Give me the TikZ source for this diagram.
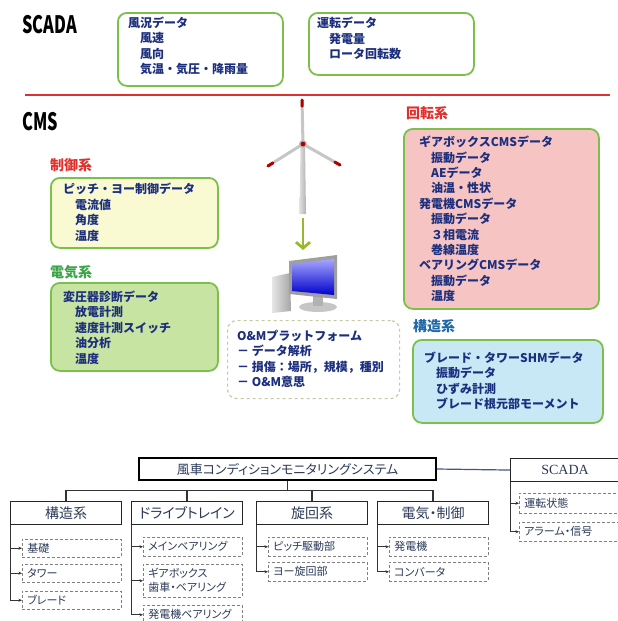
\documentclass[tikz,border=0pt]{standalone}
\usepackage{fontspec}
\setmainfont{Liberation Serif}
\newfontfamily\cjk{Noto Sans CJK JP}
\newfontfamily\cjkp{Noto Sans CJK JP}[RawFeature=+palt]
\usetikzlibrary{arrows.meta, positioning, calc}
\definecolor{navy}{HTML}{1C2F7E}
\definecolor{slate}{HTML}{2C3A58}
\definecolor{boxgreen}{HTML}{7CC04C}
\definecolor{pyellow}{HTML}{FAFAD2}
\definecolor{pgreen}{HTML}{C8E4A2}
\definecolor{ppink}{HTML}{F7C4C4}
\definecolor{pblue}{HTML}{C8E8F6}
\definecolor{hred}{HTML}{E0302C}
\definecolor{hgreen}{HTML}{3AA346}
\definecolor{hblue}{HTML}{2068A8}
\definecolor{arrowgreen}{HTML}{9AB82C}
\definecolor{dashbeige}{HTML}{C9C8A4}
\definecolor{linkblue}{HTML}{3C5A88}
\newcommand{\indt}{\hspace*{1em}}
\tikzset{
  >={Stealth[length=3.5pt,width=3pt]},
  panel/.style={draw=boxgreen, line width=1.8pt, rounded corners=9pt,
    anchor=north west, inner sep=0pt},
  list/.style={anchor=north west, inner sep=0pt, align=left, text=navy,
    font=\cjk\bfseries\fontsize{12}{15.5}\selectfont},
  heading/.style={anchor=west, inner sep=0pt,
    font=\cjk\bfseries\fontsize{14}{16}\selectfont},
  title/.style={anchor=west, inner sep=0pt,
    font=\cjk\bfseries\fontsize{24}{26}\selectfont},
  mainbox/.style={draw, line width=1.6pt, minimum width=297pt,
    minimum height=22pt, inner sep=0pt, text=slate,
    font=\cjkp\fontsize{13}{15}\selectfont},
  catbox/.style={draw=black!85, line width=1.1pt, anchor=north west,
    minimum width=111pt, minimum height=23pt, inner sep=0pt, text=slate,
    font=\cjkp\fontsize{14}{16}\selectfont},
  subbox/.style={draw=gray, densely dashed, line width=0.5pt,
    anchor=north west, text width=89pt, inner xsep=5pt, inner ysep=1pt,
    align=left, minimum height=19pt, text=slate,
    font=\cjkp\fontsize{11}{14}\selectfont},
  arr/.style={->, line width=0.9pt, draw=black!80},
  tree/.style={line width=1.2pt, draw=black!80},
}

\begin{document}
\begin{tikzpicture}[x=1pt, y=-1pt]
    \useasboundingbox[fill=white] (0,0) rectangle (618,621);
    % SCADA part
    \node[title] (scadatitle) at (22,25) {\scalebox{0.68}[1]{SCADA}};
    \node[panel, fill=white, minimum width=165pt, minimum height=73pt] (windbox) at (117,12) {};
    \node[list] (windtxt) at (128,16.5) {風況データ\\\indt 風速\\\indt 風向\\\indt 気温・気圧・降雨量};
    \node[panel, fill=white, minimum width=165pt, minimum height=62pt] (runbox) at (308,12) {};
    \node[list] (runtxt) at (317,17) {運転データ\\\indt 発電量\\\indt ロータ回転数};
    % separator
    \draw[hred, line width=2.6pt] (25,95) -- (610,95);

    % CMS part
    \node[title] (cmstitle) at (22,122) {\scalebox{0.68}[1]{CMS}};
    % 1. control
    \node[heading, text=hred] (ctrlhead) at (50,165) {制御系};
    \node[panel, fill=pyellow, minimum width=167pt, minimum height=70pt] (ctrlbox) at (50,177) {};
    \node[list] (ctrltxt) at (63,183) {ピッチ・ヨー制御データ\\\indt 電流値\\\indt 角度\\\indt 温度};
    % 2. electric
    \node[heading, text=hgreen] (elechead) at (50,272) {電気系};
    \node[panel, fill=pgreen, minimum width=167pt, minimum height=88pt] (elecbox) at (50,282) {};
    \node[list] (electxt) at (63,290.5) {変圧器診断データ\\\indt 放電計測\\\indt 速度計測スイッチ\\\indt 油分析\\\indt 温度};
    % 3. rotating
    \node[heading, text=hred] (rothead) at (406,113) {回転系};
    \node[panel, fill=ppink, minimum width=195pt, minimum height=180pt] (rotbox) at (403,128) {};
    \node[list, font=\cjk\bfseries\fontsize{12}{15.4}\selectfont] (rottxt) at (419,136) {ギアボックスCMSデータ\\\indt 振動データ\\\indt AEデータ\\\indt 油温・性状\\発電機CMSデータ\\\indt 振動データ\\\indt ３相電流\\\indt 巻線温度\\ベアリングCMSデータ\\\indt 振動データ\\\indt 温度};
    % 4. structure
    \node[heading, text=hblue] (strhead) at (413,326) {構造系};
    \node[panel, fill=pblue, minimum width=190pt, minimum height=83pt] (strbox) at (412,339) {};
    \node[list] (strtxt) at (424,351.5) {ブレード・タワーSHMデータ\\\indt 振動データ\\\indt ひずみ計測\\\indt ブレード根元部モーメント};

    % turbine
    \begin{scope}
        \coordinate (hub) at (303,144);
        \shade[left color=gray!25, right color=gray!60] (300.5,146) -- (305,146) -- (306,214) -- (299.5,214) -- cycle;
        \foreach \tx/\ty in {302/100, 268/166, 340/165}{
            \draw[line width=3pt, gray!45, line cap=round] (hub) -- (\tx,\ty);
            \draw[line width=3pt, red!70!black, line cap=round] ($(hub)!0.86!(\tx,\ty)$) -- (\tx,\ty);
        }
        \fill[gray!55] (hub) circle (4pt);
        \fill[red!70!black] (hub) circle (2.4pt);
        \coordinate (towerfoot) at (303,218);
    \end{scope}
    % computer
    \begin{scope}
        \coordinate (pc) at (303,250);
        \shade[left color=gray!20, right color=gray!70] (272,277) -- (290,273) -- (291,311) -- (272,313) -- cycle;
        \fill[gray!45] (318,307) ellipse (19pt and 5pt);
        \fill[gray!60] (313,296) rectangle (323,306);
        \fill[gray!75] (289,261) -- (337,255) -- (337,299) -- (289,294) -- cycle;
        \shade[top color=blue!35, bottom color=blue!80!black] (292,264) -- (334,259) -- (334,295) -- (292,291) -- cycle;
    \end{scope}
    \draw[arrowgreen, line width=2.8pt, -{Straight Barb[length=6pt,width=14pt]}] (towerfoot) -- (pc);
    % O&M platform
    \node[panel, draw=dashbeige, dashed, line width=1.2pt, fill=white, minimum width=172pt, minimum height=78pt] (ombox) at (227,320) {};
    \node[list] (omtxt) at (237,329.5) {O\&Mプラットフォーム\\－ データ解析\\－ 損傷：場所，規模，種別\\－ O\&M意思};

    % tree
    \node[mainbox] (wtcms) at (287.5,469) {風車コンディションモニタリングシステム};
    \node[catbox, minimum width=115pt, font=\fontsize{14}{16}\selectfont] (scada) at (510,458) {\hspace*{-6pt}SCADA};
    \draw[linkblue, line width=1.2pt] (wtcms.east) -- (scada.west);
    \foreach \name/\x/\txt in {kozo/10/構造系, drive/131/ドライブトレイン, yaw/256/旋回系, elec/377/電気・制御}{
        \node[catbox] (\name) at (\x,501) {\txt};
        \draw[tree] (wtcms.south) -- ++(0,10) -| (\name.north);
    }
    % sub items
    \node[subbox, minimum height=18pt] (kiso) at (22,539) {基礎};
    \node[subbox, minimum height=18pt] (tower) at (22,564) {タワー};
    \node[subbox, minimum height=18pt] (blade) at (22,591) {ブレード};
    \node[subbox] (mainbr) at (143,537) {メインベアリング};
    \node[subbox, minimum height=33pt] (gear) at (143,564) {ギアボックス\\歯車・ベアリング};
    \node[subbox] (genbr) at (143,605) {発電機ベアリング};
    \node[subbox] (pitch) at (268,537) {ピッチ駆動部};
    \node[subbox] (yawdr) at (268,562) {ヨー旋回部};
    \node[subbox] (gen) at (389,537) {発電機};
    \node[subbox] (conv) at (389,562) {コンバータ};
    \node[subbox, text width=96pt, minimum height=20pt] (unten) at (519,493) {運転状態};
    \node[subbox, text width=96pt] (alarm) at (519,522) {アラーム・信号};
    \foreach \cat/\sub in {kozo/kiso, kozo/tower, kozo/blade, drive/mainbr, drive/gear, drive/genbr, yaw/pitch, yaw/yawdr, elec/gen, elec/conv, scada/unten, scada/alarm}{
        \draw[arr] (\cat.south west) |- (\sub.west);
    }
\end{tikzpicture}
\end{document}
